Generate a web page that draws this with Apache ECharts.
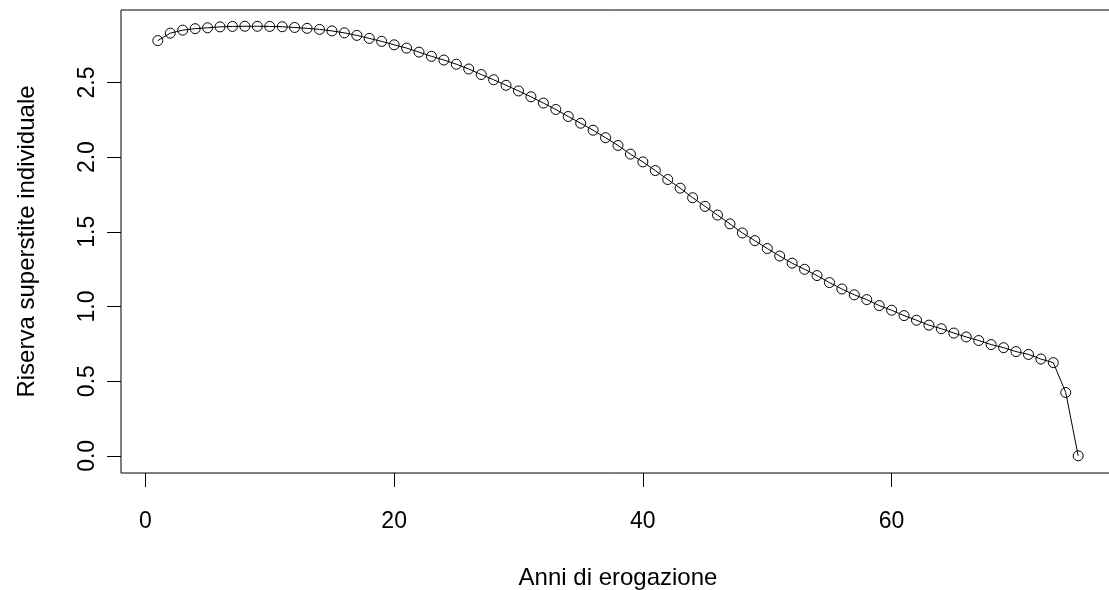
<!DOCTYPE html>
<html>
<head>
<meta charset="utf-8">
<script src="https://cdn.jsdelivr.net/npm/echarts@6/dist/echarts.min.js"></script>
<style>
html,body{margin:0;padding:0;background:#fff;}
#chart{width:1109px;height:590px;}
</style>
</head>
<body>
<div id="chart"></div>
<script>
// Anni di erogazione (x)
const years = [1,2,3,4,5,6,7,8,9,10,11,12,13,14,15,16,17,18,19,20,
  21,22,23,24,25,26,27,28,29,30,31,32,33,34,35,36,37,38,39,40,
  41,42,43,44,45,46,47,48,49,50,51,52,53,54,55,56,57,58,59,60,
  61,62,63,64,65,66,67,68,69,70,71,72,73,74,75];
// Riserva superstite individuale (y)
const reserve = [2.78,2.83,2.85,2.86,2.866,2.872,2.875,2.876,2.876,2.875,
  2.873,2.868,2.862,2.855,2.845,2.832,2.815,2.795,2.775,2.752,
  2.73,2.703,2.675,2.65,2.622,2.59,2.553,2.518,2.481,2.443,
  2.404,2.362,2.319,2.272,2.227,2.18,2.13,2.078,2.02,1.968,
  1.91,1.85,1.792,1.728,1.67,1.612,1.553,1.492,1.441,1.388,
  1.338,1.29,1.249,1.207,1.16,1.117,1.078,1.046,1.006,0.975,
  0.939,0.908,0.875,0.851,0.822,0.796,0.772,0.745,0.724,0.698,
  0.679,0.648,0.624,0.424,0.0];
const xTicks = [0,20,40,60];
const yTicks = [0,0.5,1,1.5,2,2.5];
const yTickLabels = ['0.0','0.5','1.0','1.5','2.0','2.5'];

const FONT = '"Liberation Sans", Arial, sans-serif';
const chart = echarts.init(document.getElementById('chart'), null, {renderer:'canvas'});
chart.setOption({
  backgroundColor:'#fff',
  animation:false,
  grid:{left:121, top:10, width:994, height:463, show:true, borderColor:'#000', borderWidth:1,
    backgroundColor:'transparent', containLabel:false, outerBoundsMode:'none'},
  xAxis:{
    type:'value', min:-1.96, max:77.96,
    name:'Anni di erogazione', nameLocation:'middle', nameGap:93,
    nameTextStyle:{fontFamily:FONT, fontSize:24, color:'#000'},
    axisLine:{show:false, onZero:false},
    splitLine:{show:false},
    axisTick:{show:true, length:14, inside:false, customValues:xTicks, lineStyle:{color:'#000', width:1}},
    axisLabel:{show:true, customValues:xTicks, margin:37, fontFamily:FONT, fontSize:23, color:'#000', showMinLabel:true, showMaxLabel:true}
  },
  yAxis:{
    type:'value', min:-0.115, max:2.985,
    name:'Riserva superstite individuale', nameLocation:'middle', nameGap:82,
    nameTextStyle:{fontFamily:FONT, fontSize:24, color:'#000'},
    axisLine:{show:false, onZero:false},
    splitLine:{show:false},
    axisTick:{show:true, length:14, inside:false, customValues:yTicks, lineStyle:{color:'#000', width:1}},
    axisLabel:{show:true, customValues:yTicks, rotate:90, margin:22, fontFamily:FONT, fontSize:23, color:'#000',
      formatter:function(v){ const i = yTicks.indexOf(v); return i>=0 ? yTickLabels[i] : v.toFixed(1); }}
  },
  series:[{
    type:'line',
    data: years.map((x,i)=>[x, reserve[i]]),
    symbol:'circle', symbolSize:10,
    showAllSymbol:true,
    lineStyle:{color:'#000', width:1},
    itemStyle:{color:'rgba(0,0,0,0)', borderColor:'#000', borderWidth:1},
    emphasis:{disabled:true}
  }]
});
</script>
</body>
</html>
